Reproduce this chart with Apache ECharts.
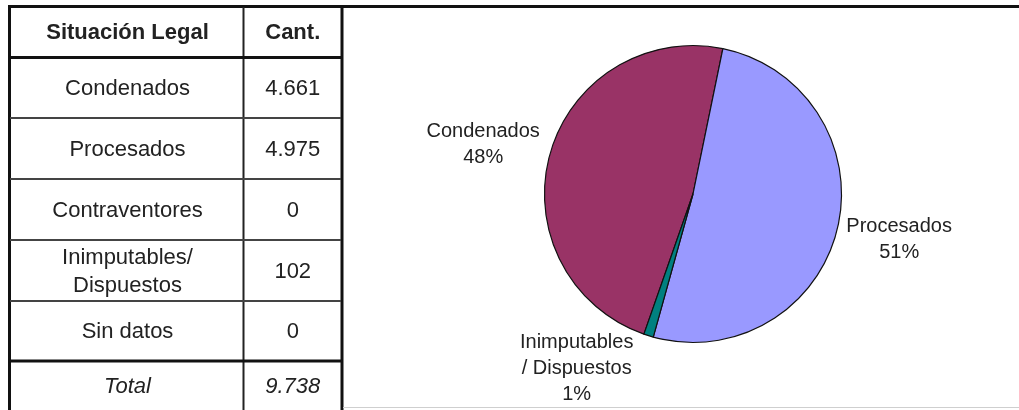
<!DOCTYPE html>
<html>
<head>
<meta charset="utf-8">
<script src="https://cdn.jsdelivr.net/npm/echarts@6/dist/echarts.min.js"></script>
<style>
  html, body { margin: 0; padding: 0; background: #fff; }
  #chart { width: 1019px; height: 410px; }
</style>
</head>
<body>
<div id="chart"></div>
<script>
// ---- data ----
const headers = ['Situación Legal', 'Cant.'];
const categories = ['Condenados', 'Procesados', 'Contraventores', 'Inimputables/ Dispuestos', 'Sin datos'];
const counts = [4661, 4975, 0, 102, 0];
const totalLabel = 'Total';

// ---- helpers ----
const fmt = n => String(n).replace(/\B(?=(\d{3})+(?!\d))/g, '.');
const total = counts.reduce((a, b) => a + b, 0);
const sliceColors = {
  'Condenados': '#993366',
  'Procesados': '#9999FF',
  'Inimputables/ Dispuestos': '#008080'
};
// label placement tweaks (style only)
const labelReach = { 'Inimputables/ Dispuestos': 34 };
const labelNudge = { 'Condenados': [0, -10], 'Procesados': [-1, 11], 'Inimputables/ Dispuestos': [5, 0] };

// ---- table layout ----
const FONT = '"Liberation Sans", Arial, sans-serif';
const colX = [9.5, 243.5, 342];            // left, divider, right
const rowY = [6.5, 57.5, 118, 179, 240, 301, 361, 412];
const colCenter = [(colX[0] + colX[1]) / 2 + 1, (colX[1] + colX[2]) / 2];

const graphics = [];
function line(x1, y1, x2, y2, w, c) {
  graphics.push({ type: 'line', silent: true, z: 10,
    shape: { x1, y1, x2, y2 }, style: { stroke: c, lineWidth: w } });
}
function text(x, y, s, weight, style) {
  graphics.push({ type: 'text', silent: true, z: 11, x, y,
    style: { text: s, fill: '#222', align: 'center', verticalAlign: 'middle',
      font: `${style || 'normal'} ${weight || 'normal'} 22px ${FONT}`, lineHeight: 28 } });
}

// borders
line(8, rowY[0], 1019, rowY[0], 3, '#111');
line(colX[0], 5, colX[0], 410, 3, '#111');
line(colX[2], 5, colX[2], 410, 3, '#111');
line(colX[1], 7, colX[1], 410, 2, '#222');
line(8, rowY[1], 343, rowY[1], 3, '#111');
for (let i = 2; i <= 5; i++) line(10, rowY[i], 341, rowY[i], 2, '#444');
line(8, rowY[6], 343, rowY[6], 3, '#111');
line(343, 407.5, 1019, 407.5, 1, '#cfcfcf');

// header
text(colCenter[0], (rowY[0] + rowY[1]) / 2 + 1, headers[0], 'bold');
text(colCenter[1], (rowY[0] + rowY[1]) / 2 + 1, headers[1], 'bold');
// rows
categories.forEach((c, i) => {
  const cy = (rowY[i + 1] + rowY[i + 2]) / 2 + 1;
  text(colCenter[0], cy, c.replace('/ ', '/\n'));
  text(colCenter[1], cy, fmt(counts[i]));
});
// total
const ty = (rowY[6] + 410) / 2 + 1;
text(colCenter[0], ty, totalLabel, 'normal', 'italic');
text(colCenter[1], ty, fmt(total), 'normal', 'italic');

// ---- pie data ----
const pieItems = categories
  .map((c, i) => ({ c, v: counts[i] }))
  .filter(d => d.v > 0);
const pieData = pieItems.map(d => ({
    name: d.c.replace('/ ', '\n/ '),
    value: d.v,
    itemStyle: { color: sliceColors[d.c] },
    labelLine: { show: false, length: labelReach[d.c] || 0, length2: 0 }
  }));

const chart = echarts.init(document.getElementById('chart'), null, { renderer: 'canvas' });
chart.setOption({
  animation: false,
  backgroundColor: '#fff',
  graphic: { elements: graphics },
  series: [{
    type: 'pie',
    center: [693, 194],
    radius: 148.5,
    startAngle: 250.7,
    clockwise: true,
    percentPrecision: 0,
    avoidLabelOverlap: false,
    data: pieData,
    itemStyle: { borderColor: '#111', borderWidth: 1.2 },
    emphasis: { disabled: true },
    label: {
      show: true,
      position: 'outside',
      formatter: '{b}\n{d}%',
      color: '#222',
      fontFamily: FONT,
      fontSize: 20,
      lineHeight: 26,
      distanceToLabelLine: 10
    },
    labelLine: { show: false, length: 0, length2: 0 },
    labelLayout: function (p) {
      const r = p.labelRect;
      const n = labelNudge[pieItems[p.dataIndex].c] || [0, 0];
      return { x: r.x + r.width / 2 + n[0], y: r.y + r.height / 2 + n[1], align: 'center', verticalAlign: 'middle' };
    }
  }]
});
</script>
</body>
</html>
